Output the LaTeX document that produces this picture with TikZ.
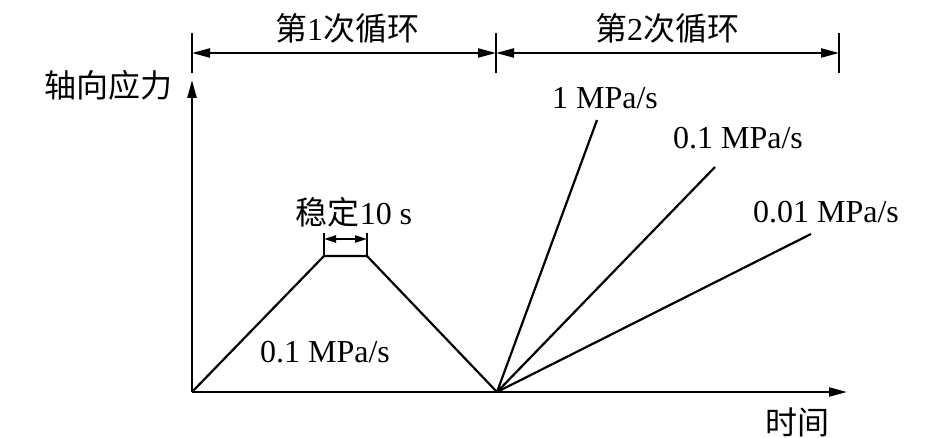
\documentclass[tikz,border=0pt]{standalone}
\usepackage{fontspec}
\setmainfont{Liberation Serif}
\newfontfamily\cjk{Noto Sans CJK SC}
\usetikzlibrary{arrows.meta}

\begin{document}
\begin{tikzpicture}[x=1pt,y=-1pt,line width=2.2pt,
  every node/.style={font=\fontsize{32}{38}\selectfont,inner sep=0pt},
  tip/.style={-{Triangle[length=18pt,width=9pt]}},
  dim/.style={{Triangle[length=18pt,width=9pt]}-{Triangle[length=18pt,width=9pt]}},
  smalldim/.style={{Triangle[length=12pt,width=7pt]}-{Triangle[length=12pt,width=7pt]}}]
\useasboundingbox (0,0) rectangle (945,438);
% axes
\coordinate (O) at (192,392);
\coordinate (ytop) at (192,80);
\coordinate (xend) at (847,392);
\draw[tip] (O) -- (ytop);
\draw[tip] (O) -- (xend);
\node (ylab) at (108,85) {\cjk 轴向应力};
\node (xlab) at (797,422) {\cjk 时间};
% first cycle
\coordinate (P1) at (324,256);
\coordinate (P2) at (367,256);
\coordinate (M) at (497,392);
\draw (O) -- (P1) -- (P2) -- (M);
\coordinate (P1h) at (324,233);
\coordinate (P2h) at (367,233);
\coordinate (h1) at (324,239);
\coordinate (h2) at (367,239);
\draw (P1) -- (P1h) (P2) -- (P2h);
\draw[smalldim] (h1) -- (h2);
\node (hold) at (354,212) {{\cjk 稳定}10 s};
\node (rate0) at (325,352) {0.1 MPa/s};
% second cycle
\coordinate (E1) at (597,120);
\coordinate (E2) at (715,167);
\coordinate (E3) at (811,234);
\draw (M) -- (E1) (M) -- (E2) (M) -- (E3);
\node (rate1) at (605,98) {1 MPa/s};
\node (rate2) at (738,138) {0.1 MPa/s};
\node (rate3) at (826,212) {0.01 MPa/s};
% cycle dimensions
\foreach \n/\x in {a/192,b/496,c/839} {
  \coordinate (\n top) at (\x,33);
  \coordinate (\n bot) at (\x,73);
  \coordinate (\n) at (\x,53);
  \draw (\n top) -- (\n bot);
}
\draw[dim] (a) -- (b);
\draw[dim] (b) -- (c);
\node (cyc1) at (347,28) {{\cjk 第}1{\cjk 次循环}};
\node (cyc2) at (667,28) {{\cjk 第}2{\cjk 次循环}};
\end{tikzpicture}
\end{document}
